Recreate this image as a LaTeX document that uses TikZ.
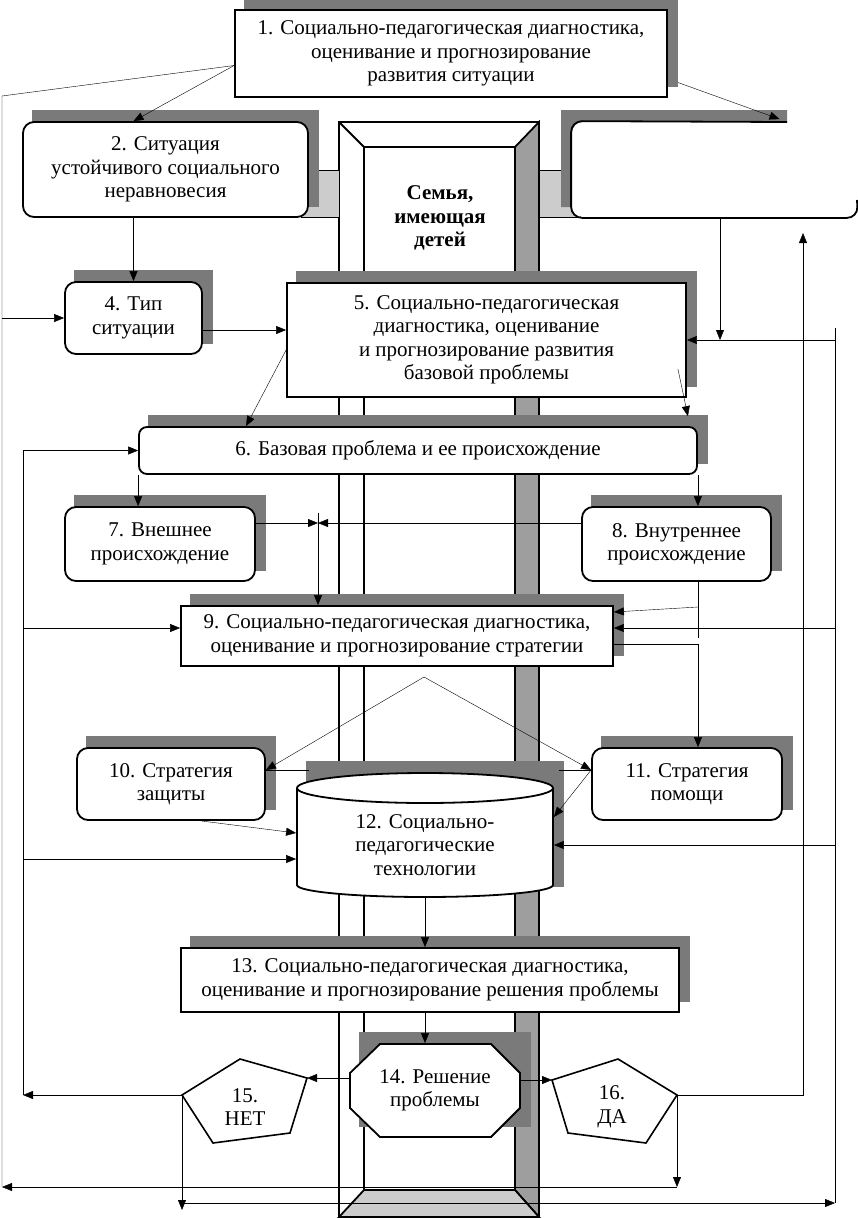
\documentclass[tikz,border=0pt]{standalone}
\usepackage{fontspec}
\setmainfont{Liberation Serif}
\usetikzlibrary{arrows.meta}
\pgfdeclarelayer{back}
\pgfdeclarelayer{shade}
\pgfsetlayers{back,shade,main}
\definecolor{shadowgray}{gray}{0.48}
\definecolor{bevelgray}{gray}{0.62}
\definecolor{linkgray}{gray}{0.8}
\begin{document}
\begin{tikzpicture}[x=1pt, y=-1pt, line width=1.5pt, >={Triangle[length=10pt,width=8pt]}, box/.style={rectangle, draw=black, line width=1.8pt, fill=white, inner sep=0pt, align=center, node font=\fontsize{21}{23.5}\selectfont}, rbox/.style={box, rounded corners=#1}, rbox/.default=11pt, pent/.style={line width=1.6pt}, label/.style={align=center, node font=\fontsize{21}{23.5}\selectfont}]
\useasboundingbox (0,0) rectangle (858,1218);

\begin{pgfonlayer}{back}
\draw[line width=1.8pt, fill=white] (339,122) rectangle (539,1217);
\draw[line width=1.8pt, fill=bevelgray] (515,147) -- (539,122) -- (539,1217) -- (515,1190) -- cycle;
\draw[line width=1.8pt, fill=linkgray] (364,1190) -- (515,1190) -- (539,1217) -- (339,1217) -- cycle;
\draw[line width=1.8pt] (339,122) -- (364,147) rectangle (515,1190);
\draw[fill=linkgray] (301,170) rectangle (339,217);
\draw[fill=linkgray] (539,170) rectangle (580,217);
\end{pgfonlayer}

\node [box, minimum width=432, minimum height=87] (diag) at (451,53.5) {1. Социально-педагогическая диагностика,\\оценивание и прогнозирование\\развития ситуации};
\node [rbox, minimum width=285, minimum height=95] (sit) at (165.5,169.5) {2. Ситуация\\устойчивого социального\\неравновесия};
\node [rbox, draw=none, minimum width=285, minimum height=95] (risk) at (714.5,169.5) {};
\node [label, font=\bfseries] (fam) at (440,218) {Семья,\\имеющая\\детей};
\node [rbox, minimum width=137, minimum height=72] (type) at (133.5,318) {4. Тип\\ситуации};
\node [box, minimum width=399, minimum height=114] (prob) at (486.5,340) {5. Социально-педагогическая\\диагностика, оценивание\\и прогнозирование развития\\базовой проблемы};
\node [rbox=8pt, minimum width=558, minimum height=47] (base) at (418,450.5) {6. Базовая проблема и ее происхождение};
\node [rbox, minimum width=190, minimum height=74] (ext) at (160,544) {7. Внешнее\\происхождение};
\node [rbox, minimum width=189, minimum height=74] (int) at (676.5,544) {8. Внутреннее\\происхождение};
\node [box, minimum width=432, minimum height=60] (strat) at (397,636) {9. Социально-педагогическая диагностика,\\оценивание и прогнозирование стратегии};
\node [rbox, minimum width=188, minimum height=72] (prot) at (171,784) {10. Стратегия\\защиты};
\node [rbox, minimum width=190, minimum height=72] (help) at (687,784) {11. Стратегия\\помощи};
\draw[line width=1.8pt, fill=white] (297,788) -- (297,885) arc[start angle=180, end angle=360, x radius=128pt, y radius=12pt] -- (553,788);
\draw[line width=1.8pt, fill=white] (425,788) ellipse [x radius=128pt, y radius=15pt];
\node [box, draw=none, fill=none, minimum width=256, minimum height=104] (tech) at (425,845) {12. Социально-\\педагогические\\технологии};
\node [box, minimum width=498, minimum height=64] (summ) at (430,980) {13. Социально-педагогическая диагностика,\\оценивание и прогнозирование решения проблемы};
\draw[line width=1.8pt, fill=white] (380,1044) -- (491,1044) -- (520,1073) -- (520,1108) -- (491,1137) -- (380,1137) -- (350,1108) -- (350,1073) -- cycle;
\node [box, draw=none, fill=none, minimum width=170, minimum height=93] (sol) at (435,1090.5) {14. Решение\\проблемы};
\draw[pent] (240,1059) -- (307,1078) coordinate (no-r) -- (290,1133) -- (213,1143) -- (182,1095) coordinate (no-l) -- cycle;
\node [label] (no) at (245,1107) {15.\\НЕТ};
\draw[pent] (618,1059) -- (677,1095) coordinate (yes-r) -- (646,1143) -- (568,1133) -- (552,1080) coordinate (yes-l) -- cycle;
\node [label] (yes) at (612,1107) {16.\\ДА};
\draw[line width=1.8pt, rounded corners=11pt] (787,122) -- (risk.north west) -- (risk.south west) -- (risk.south east) -- (857,200);

\begin{pgfonlayer}{shade}
\fill[shadowgray] ([shift={(10,-11)}]diag.south west) rectangle ([shift={(10,-11)}]diag.north east)
 ([shift={(10,-11)}]sit.south west) rectangle ([shift={(10,-11)}]sit.north east)
 ([shift={(10,-11)}]type.south west) rectangle ([shift={(10,-11)}]type.north east)
 ([shift={(10,-11)}]prob.south west) rectangle ([shift={(10,-11)}]prob.north east)
 ([shift={(10,-11)}]base.south west) rectangle ([shift={(10,-11)}]base.north east)
 ([shift={(10,-11)}]ext.south west) rectangle ([shift={(10,-11)}]ext.north east)
 ([shift={(10,-11)}]int.south west) rectangle ([shift={(10,-11)}]int.north east)
 ([shift={(10,-11)}]strat.south west) rectangle ([shift={(10,-11)}]strat.north east)
 ([shift={(10,-11)}]prot.south west) rectangle ([shift={(10,-11)}]prot.north east)
 ([shift={(10,-11)}]help.south west) rectangle ([shift={(10,-11)}]help.north east)
 ([shift={(10,-31)}]tech.north west) rectangle ([shift={(10,-11)}]tech.south east)
 ([shift={(10,-11)}]summ.south west) rectangle ([shift={(10,-11)}]summ.north east)
 ([shift={(10,-11)}]sol.south west) rectangle ([shift={(10,-11)}]sol.north east)
 (561,110) rectangle (787,207);
\end{pgfonlayer}

\coordinate (topL) at (2,96);
\coordinate (outL) at (2,1187);
\coordinate (inL) at (23,455);
\coordinate (inR) at (835,328);
\coordinate (outR) at (835,1203);
\coordinate (retD) at (803,233);
\coordinate (nodown) at (182,1210);
\coordinate (apex) at (424,677);
\coordinate (meet) at (318,523);
\coordinate (j8) at (698,607);
\coordinate (t4) at ([yshift=-12pt]type.east);
\coordinate (r3) at ([xshift=5.5pt]risk.south);
\coordinate (w9) at ([yshift=8pt]strat.west);
\coordinate (e9) at ([yshift=8pt]strat.east);
\coordinate (c12) at ([yshift=-14pt]tech.west);

\draw[->] ([yshift=-12pt]diag.west) -- ([xshift=-32pt]sit.north);
\draw ([yshift=-12pt]diag.west) -- (topL) -- (outL);
\draw[->] ([xshift=10pt,yshift=-29pt]diag.east) -- ([xshift=65pt,yshift=2pt]risk.north);
\draw[->] (topL |- type.west) -- (type.west);
\draw[->] (type.north |- sit.south) -- (type.north);
\draw[->] (t4) -- (t4 -| prob.west);
\draw[->] (r3) -- (r3 |- prob.east);
\draw[->] (inR |- prob.east) -- (prob.east);
\draw (inR) -- (outR);
\draw[->] ([yshift=-10pt]prob.west) -- ([xshift=108pt]base.north west);
\draw[->] ([xshift=-9pt,yshift=29pt]prob.south east) -- ([xshift=-10pt,yshift=10pt]base.north east);
\draw[->] (no-l) -- (no-l -| inL);
\draw[->] (no-l -| inL) |- (base.west);
\draw[->] (base.south west) -- (base.south west |- ext.north);
\draw[->] (base.south east) -- (base.south east |- int.north);
\draw[->] ([yshift=21pt]ext.east) -- (meet);
\draw[->] ([yshift=21pt]int.west) -- (meet);
\draw[->] ([yshift=10pt]meet) -- (meet |- strat.north);
\draw (base.south east |- int.south) -- ++(0,56);
\draw[->] (j8) -- ([yshift=24pt]strat.east);
\draw[->] (inR |- e9) -- (e9);
\draw[->] (inL |- w9) -- (w9);
\draw[->] ([yshift=-8pt]strat.east) -| ([xshift=11pt]help.north);
\draw[->] (apex) -- ([yshift=14pt]prot.east);
\draw[->] (apex) -- ([yshift=14pt]help.west);
\draw ([yshift=14pt]prot.east) -- ++(43,0);
\draw ([yshift=14pt]help.west) -- ++(-32,0);
\draw[->] ([xshift=30pt]prot.south) -- ([yshift=12pt]tech.west);
\draw[->] (inL |- c12) -- (c12);
\draw[->] ([yshift=14pt]help.west) -- ([yshift=28pt]tech.east);
\draw[->] (inR |- tech.east) -- (tech.east);
\draw[->] (tech.south) -- (tech.south |- summ.north);
\draw[->] (tech.south |- summ.south) -- (tech.south |- sol.north);
\draw[->] (no-r -| sol.west) -- (no-r);
\draw[->] (yes-l -| sol.east) -- (yes-l);
\draw[->] (no-l) -- (nodown);
\draw[->] (no-l |- outR) -- (outR);
\draw[->] (yes-r) -- (yes-r |- outL);
\draw[->] (yes-r |- outL) -- (outL);
\draw[->] (yes-r) -| (retD);

\end{tikzpicture}
\end{document}
